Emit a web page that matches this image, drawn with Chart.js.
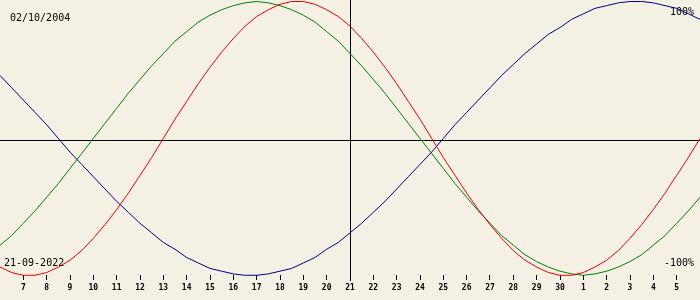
<!DOCTYPE html>
<html lang="en">
<head>
  <meta charset="UTF-8">
  <title>Biorhythm 21-09-2022</title>
  <script src="https://cdn.jsdelivr.net/npm/chart.js"></script>
  <style>
    * {
      margin: 0;
      padding: 0;
    }
    body {
      background: #f4f0e4;
      width: 700px;
      height: 300px;
      overflow: hidden;
    }
    canvas {
      display: block;
      background: #f4f0e4;
    }
  </style>
</head>
<body>
  <canvas id="bioChart" width="700" height="300"></canvas>

  <script>
    const birthDate = '02/10/2004';
    const chartDate = '21-09-2022';

    // day of month under each whole-day position, 6 Sep .. 6 Oct
    const dayLabels = ['6', '7', '8', '9', '10', '11', '12', '13', '14', '15', '16', '17', '18', '19', '20',
      '21', '22', '23', '24', '25', '26', '27', '28', '29', '30', '1', '2', '3', '4', '5', '6'];
    const todayIndex = 15;

    // percent values, one every half day
    const physical = [-94, -98, -100, -100, -98, -94, -89, -82, -73, -63, -52, -40, -27, -14, 0, 14,
      27, 40, 52, 63, 73, 82, 89, 94, 98, 100, 100, 98, 94, 89, 82, 73, 63, 52, 40, 27, 14, 0,
      -14, -27, -40, -52, -63, -73, -82, -89, -94, -98, -100, -100, -98, -94, -89, -82, -73, -63,
      -52, -40, -27, -14, 0];
    const emotional = [-78, -71, -62, -53, -43, -33, -22, -11, 0, 11, 22, 33, 43, 53, 62, 71,
      78, 85, 90, 94, 97, 99, 100, 99, 97, 94, 90, 85, 78, 71, 62, 53, 43, 33, 22, 11, 0,
      -11, -22, -33, -43, -53, -62, -71, -78, -85, -90, -94, -97, -99, -100, -99, -97, -94, -90,
      -85, -78, -71, -62, -53, -43];
    const intellectual = [46, 37, 28, 19, 10, 0, -10, -19, -28, -37, -46, -54, -62, -69, -76, -81,
      -87, -91, -95, -97, -99, -100, -100, -99, -97, -95, -91, -87, -81, -76, -69, -62, -54, -46,
      -37, -28, -19, -10, 0, 10, 19, 28, 37, 46, 54, 62, 69, 76, 81, 87, 91, 95, 97, 99, 100,
      100, 99, 97, 95, 91, 87];

    const axisLineValue = -1.2;

    const toPoints = arr => arr.map((v, i) => ({ x: i / 2, y: v }));

    const crossLines = {
      id: 'crossLines',
      beforeDatasetsDraw(chart) {
        const { ctx, chartArea, scales } = chart;
        const x = Math.floor(scales.x.getPixelForValue(todayIndex)) + 0.5;
        const y = Math.floor(scales.y.getPixelForValue(axisLineValue)) + 0.5;
        ctx.save();
        ctx.strokeStyle = '#000';
        ctx.lineWidth = 1;
        ctx.beginPath();
        ctx.moveTo(chartArea.left, y);
        ctx.lineTo(chartArea.right, y);
        ctx.moveTo(x, chartArea.top);
        ctx.lineTo(x, chartArea.bottom + 6);
        ctx.stroke();

        ctx.fillStyle = '#000';
        ctx.font = '10px "DejaVu Sans Mono"';
        ctx.textBaseline = 'alphabetic';
        ctx.textAlign = 'left';
        ctx.fillText(birthDate, 10, 21);
        ctx.fillText(chartDate, 4, 266);
        ctx.textAlign = 'right';
        ctx.fillText('100%', 694, 15);
        ctx.fillText('-100%', 694, 266);
        ctx.restore();
      }
    };

    new Chart(document.getElementById('bioChart'), {
      type: 'line',
      data: {
        datasets: [
          { label: 'Physical', data: toPoints(physical), borderColor: '#e80000' },
          { label: 'Emotional', data: toPoints(emotional), borderColor: '#008000' },
          { label: 'Intellectual', data: toPoints(intellectual), borderColor: '#000088' }
        ]
      },
      options: {
        responsive: false,
        animation: false,
        layout: { padding: 0 },
        elements: {
          line: { borderWidth: 1, tension: 0 },
          point: { radius: 0 }
        },
        datasets: { line: { clip: false } },
        plugins: {
          legend: { display: false },
          tooltip: { enabled: false }
        },
        scales: {
          x: {
            type: 'linear',
            min: 0,
            max: 30,
            afterBuildTicks(scale) {
              scale.ticks = scale.ticks.filter(t => t.value > 0 && t.value < 30);
            },
            afterFit(scale) {
              scale.height = 25;
              scale.paddingLeft = 0;
              scale.paddingRight = 0;
            },
            ticks: {
              stepSize: 1,
              autoSkip: false,
              maxRotation: 0,
              padding: 3,
              color: '#000',
              font: { family: 'DejaVu Sans Mono', size: 8, weight: 'bold' },
              callback: value => dayLabels[value]
            },
            grid: {
              drawOnChartArea: false,
              drawTicks: true,
              tickLength: 5,
              color: '#000',
              lineWidth: 1
            },
            border: { display: false }
          },
          y: {
            display: false,
            min: -99.8,
            max: 101.1
          }
        }
      },
      plugins: [crossLines]
    });
  </script>
</body>
</html>
